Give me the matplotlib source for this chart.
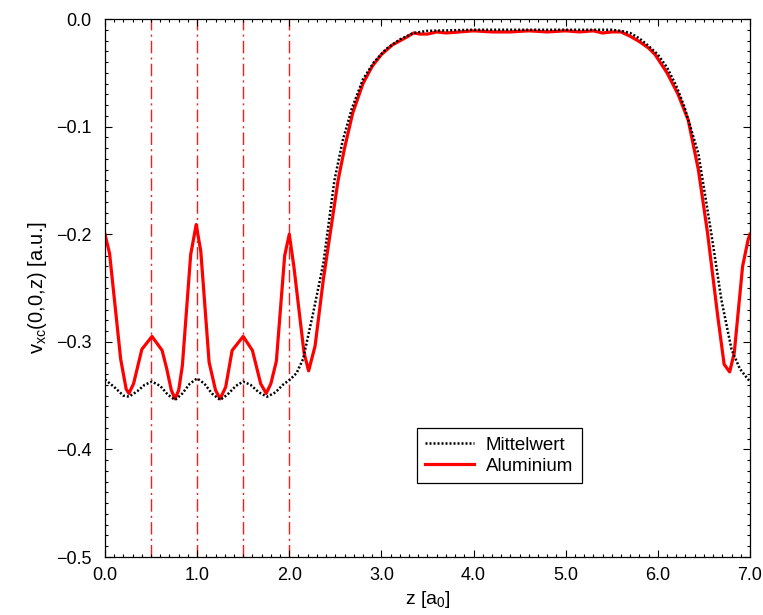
import matplotlib
matplotlib.use("Agg")
import matplotlib.pyplot as plt
from matplotlib.ticker import MultipleLocator, FuncFormatter

plt.rcParams['font.family'] = ['Liberation Sans', 'DejaVu Sans']
plt.rcParams['mathtext.default'] = 'regular'

# Mittelwert (black dotted)
z_mittel = [0.00, 0.10, 0.20, 0.26, 0.35, 0.43, 0.51, 0.60, 0.68, 0.76, 0.84, 0.92,
            1.00, 1.08, 1.16, 1.25, 1.33, 1.42, 1.50, 1.58, 1.67, 1.76, 1.85, 1.93,
            2.01, 2.08, 2.15, 2.26, 2.37, 2.49, 2.58, 2.68, 2.80, 2.92, 3.05, 3.20,
            3.35, 3.50, 4.00, 4.50, 5.00, 5.50, 5.60, 5.70, 5.80, 5.90, 6.00, 6.10,
            6.20, 6.29, 6.44, 6.58, 6.69, 6.80, 6.89, 6.98, 7.00]
v_mittel = [-0.335, -0.342, -0.350, -0.351, -0.346, -0.340, -0.337, -0.341, -0.349, -0.354, -0.348, -0.339,
            -0.334, -0.339, -0.348, -0.354, -0.349, -0.341, -0.337, -0.340, -0.347, -0.351, -0.347, -0.340,
            -0.335, -0.329, -0.316, -0.273, -0.227, -0.150, -0.113, -0.083, -0.056, -0.040, -0.028, -0.019,
            -0.013, -0.011, -0.010, -0.010, -0.010, -0.010, -0.011, -0.013, -0.018, -0.025, -0.033, -0.045,
            -0.062, -0.082, -0.125, -0.199, -0.261, -0.307, -0.325, -0.335, -0.336]

# Aluminium (red)
z_al = [0.00, 0.05, 0.17, 0.23, 0.26, 0.31, 0.40, 0.51, 0.62, 0.67, 0.72, 0.76,
        0.80, 0.84, 0.93, 0.99, 1.04, 1.13, 1.20, 1.25, 1.31, 1.38, 1.50, 1.60,
        1.69, 1.75, 1.80, 1.86, 1.95, 2.00, 2.05, 2.16, 2.21, 2.28, 2.37, 2.45,
        2.53, 2.60, 2.69, 2.80, 2.90, 3.00, 3.12, 3.25, 3.35, 3.42, 3.50, 3.60,
        3.70, 3.85, 4.00, 4.20, 4.40, 4.60, 4.80, 5.00, 5.15, 5.30, 5.40, 5.50,
        5.60, 5.70, 5.80, 5.90, 5.97, 6.10, 6.22, 6.33, 6.44, 6.54, 6.65, 6.72,
        6.78, 6.83, 6.92, 6.98, 7.00]
v_al = [-0.200, -0.218, -0.316, -0.344, -0.348, -0.339, -0.307, -0.295, -0.308, -0.325, -0.345, -0.353,
        -0.345, -0.322, -0.219, -0.191, -0.216, -0.319, -0.345, -0.353, -0.342, -0.308, -0.295, -0.308,
        -0.339, -0.348, -0.339, -0.318, -0.220, -0.200, -0.230, -0.310, -0.327, -0.304, -0.242, -0.196,
        -0.150, -0.120, -0.087, -0.060, -0.044, -0.033, -0.024, -0.018, -0.013, -0.014, -0.014, -0.012,
        -0.013, -0.012, -0.011, -0.012, -0.012, -0.011, -0.012, -0.011, -0.012, -0.011, -0.013, -0.012,
        -0.012, -0.016, -0.021, -0.027, -0.033, -0.050, -0.070, -0.094, -0.140, -0.199, -0.276, -0.321,
        -0.328, -0.310, -0.230, -0.205, -0.200]

# atom positions
z_marks = [0.5, 1.0, 1.5, 2.0]

fig = plt.figure(figsize=(7.63, 6.15), dpi=100)
ax = fig.add_axes([0.1376, 0.0943, 0.8453, 0.8748])

for zm in z_marks:
    ax.axvline(zm, color='#ff1a1a', lw=1.0, ls=(0, (9, 3, 1.5, 3)), zorder=1)

ax.plot(z_mittel, v_mittel, color='black', lw=1.8, ls=(0, (0.8, 0.8)), label='Mittelwert', zorder=3)
ax.plot(z_al, v_al, color='#ff0000', lw=2.3, label='Aluminium', zorder=2)

ax.set_xlim(0, 7)
ax.set_ylim(-0.5, 0)
ax.xaxis.set_major_locator(MultipleLocator(1.0))
ax.xaxis.set_minor_locator(MultipleLocator(0.1))
ax.yaxis.set_major_locator(MultipleLocator(0.1))
ax.yaxis.set_minor_locator(MultipleLocator(0.01))

# one decimal, real minus sign
fmt = FuncFormatter(lambda v, pos: ('%.1f' % v).replace('-', '\u2212') if abs(v) > 1e-9 else '0.0')
ax.xaxis.set_major_formatter(fmt)
ax.yaxis.set_major_formatter(fmt)

ax.tick_params(which='both', direction='in', top=True, right=True, labelsize=13, width=0.8)
ax.tick_params(which='major', length=5)
ax.tick_params(which='minor', length=2.5)
ax.tick_params(axis='x', which='major', pad=7)
ax.tick_params(axis='y', which='major', pad=9.5)
for s in ax.spines.values():
    s.set_linewidth(0.9)

ax.set_xlabel('z [a$_0$]', fontsize=14, labelpad=4)
ax.set_ylabel('v$_{xc}$(0,0,z) [a.u.]', fontsize=14.5, labelpad=5)

leg = ax.legend(loc='lower left', bbox_to_anchor=(0.483, 0.137), fontsize=13.5,
                frameon=True, fancybox=False, shadow=False, handlelength=2.6,
                handletextpad=0.65, borderpad=0.45, labelspacing=0.2, borderaxespad=0)
leg.get_frame().set_edgecolor('black')
leg.get_frame().set_linewidth(0.9)
leg.get_frame().set_alpha(1)

fig.savefig('out.png', dpi=100)
